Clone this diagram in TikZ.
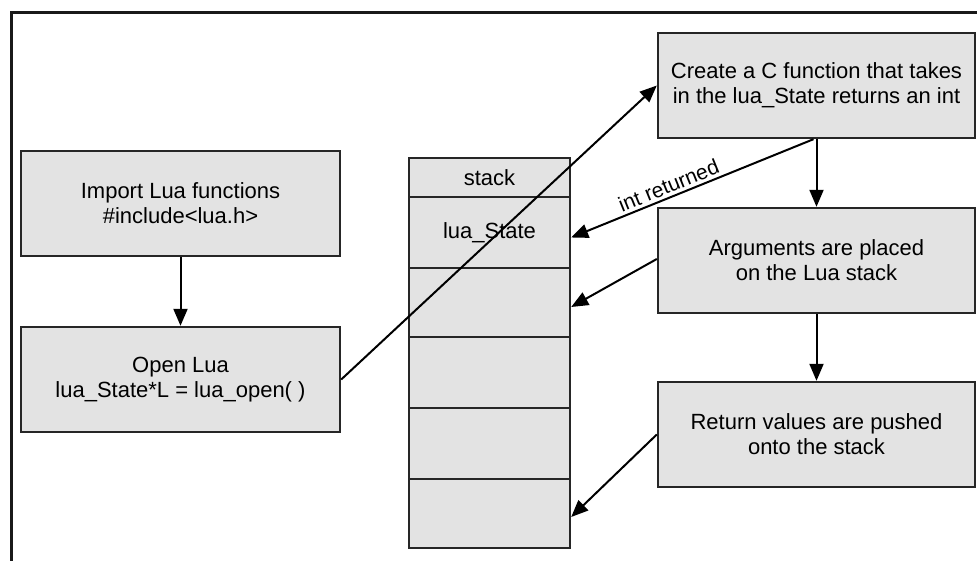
\documentclass[tikz,border=0pt]{standalone}
\usepackage{fontspec}
\setmainfont{Liberation Sans}
\usetikzlibrary{arrows.meta}
\definecolor{boxfill}{HTML}{E3E3E3}
\tikzset{
  box/.style={draw=black!85, line width=2.4pt, fill=boxfill, rectangle, align=center, inner sep=0pt,
    font=\fontsize{22}{25}\selectfont},
  cell/.style={draw=black!85, line width=2.4pt, fill=boxfill, rectangle, inner sep=0pt,
    minimum width=161pt, font=\fontsize{22}{25}\selectfont},
  conn/.style={line width=2pt, -{Triangle[length=17pt,width=14pt]}},
  lbl/.style={font=\fontsize{21}{24}\selectfont}
}
\begin{document}
\begin{tikzpicture}[x=1pt,y=-1pt]
\clip (0,0) rectangle (977,561);
\fill[white] (0,0) rectangle (977,561);
\draw[line width=3pt, black!90] (11,13) rectangle (1010,600);
% left column
\node[box, minimum width=319pt, minimum height=105pt] (import) at (180.5,203.5) {Import Lua functions\\\#include<lua.h>};
\node[box, minimum width=319pt, minimum height=105pt] (open) at (180.5,379.5) {Open Lua\\lua\_State*L = lua\_open( )};
% stack
\node[cell, minimum height=39pt] (hdr) at (489.5,177.5) {stack};
\node[cell, minimum height=71pt] (c1) at (489.5,232.5) {lua\_State};
\node[cell, minimum height=69pt] (c2) at (489.5,302.5) {};
\node[cell, minimum height=71pt] (c3) at (489.5,372.5) {};
\node[cell, minimum height=71pt] (c4) at (489.5,443.5) {};
\node[cell, minimum height=69pt] (c5) at (489.5,513.5) {};
% right column
\node[box, minimum width=317pt, minimum height=105pt] (create) at (816.5,85.5) {Create a C function that takes\\in the lua\_State returns an int};
\node[box, minimum width=317pt, minimum height=105pt] (args) at (816.5,260.5) {Arguments are placed\\on the Lua stack};
\node[box, minimum width=317pt, minimum height=105pt] (ret) at (816.5,434.5) {Return values are pushed\\onto the stack};
% connectors
\draw[conn] (import.south) -- (open.north);
\draw[conn] (open.east) -- (create.west);
\draw[conn] ([xshift=-3pt]create.south) -- node[lbl, sloped, above, pos=0.58, inner sep=3pt] {int returned} ([yshift=-5pt]c1.east);
\draw[conn] (create.south) -- (args.north);
\draw[conn] (args.south) -- (ret.north);
\draw[conn] ([yshift=1.5pt]args.west) -- ([yshift=-4.5pt]c2.east);
\draw[conn] (ret.west) -- ([yshift=-3.5pt]c5.east);
\end{tikzpicture}
\end{document}
